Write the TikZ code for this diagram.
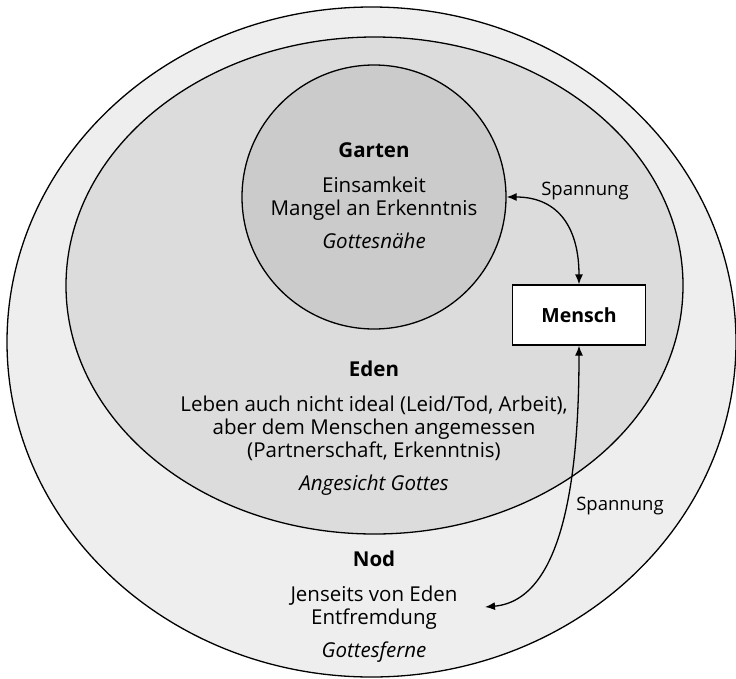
\documentclass[tikz,border=0pt]{standalone}
\usepackage{fontspec}
\setmainfont{Open Sans}
\usepackage{xcolor}
\usetikzlibrary{arrows.meta,positioning,calc,shapes.geometric}
\definecolor{nodgray}{HTML}{EEEEEE}
\definecolor{edengray}{HTML}{DCDCDC}
\definecolor{gartengray}{HTML}{CBCBCB}
\begin{document}
\begin{tikzpicture}[x=1pt,y=-1pt,>={Latex[length=10pt,width=8pt]},
  region/.style={draw,line width=1.3pt,ellipse,inner sep=0pt},
  box/.style={draw,line width=1.3pt,fill=white,minimum width=133pt,minimum height=60pt,font=\bfseries\fontsize{19.5}{23}\selectfont},
  txt/.style={align=center,font=\fontsize{20.5}{23}\selectfont},
  spanarrow/.style={<->,line width=1.3pt},
  lbl/.style={font=\fontsize{18.5}{22}\selectfont}]
  \useasboundingbox (0,0) rectangle (736,678);
  \node[region,fill=nodgray,minimum width=729pt,minimum height=670pt] (nod) at (371.5,342) {};
  \node[region,fill=edengray,minimum width=617pt,minimum height=497pt] (eden) at (374.5,285.5) {};
  \node[region,fill=gartengray,minimum width=264pt,minimum height=264pt] (garten) at (374,197) {};
  \node[box] (mensch) at (579,315) {Mensch};
  \node[txt] (gartentext) at (374,196) {\textbf{Garten}\\[12pt]Einsamkeit\\Mangel an Erkenntnis\\[10pt]\textit{Gottesnähe}};
  \node[txt] (edentext) at (374,428) {\textbf{Eden}\\[12pt]Leben auch nicht ideal (Leid/Tod, Arbeit),\\aber dem Menschen angemessen\\(Partnerschaft, Erkenntnis)\\[10pt]\textit{Angesicht Gottes}};
  \node[txt] (nodtext) at (374,606.5) {\textbf{Nod}\\[12pt]Jenseits von Eden\\Entfremdung\\[10pt]\textit{Gottesferne}};
  \coordinate (fern) at (485,607);
  \draw[spanarrow] (garten.east) .. controls (560,197) and (579,230) .. (mensch.north);
  \draw[spanarrow] (mensch.south) .. controls (579,470) and (565,600) .. (fern);
  \node[lbl] (spannung1) at (585,191) {Spannung};
  \node[lbl] (spannung2) at (620,506) {Spannung};
\end{tikzpicture}
\end{document}
